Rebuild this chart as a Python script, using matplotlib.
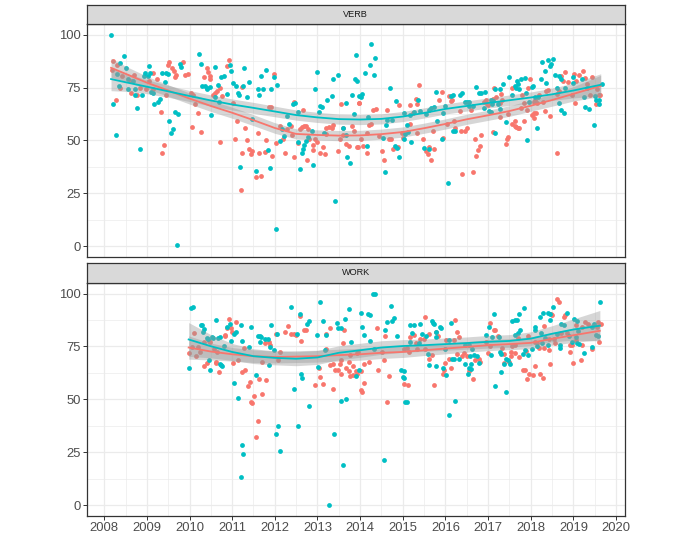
import numpy as np
import matplotlib
matplotlib.use("Agg")
import matplotlib.pyplot as plt
from matplotlib.ticker import MultipleLocator

plt.rcParams['font.family'] = ['Liberation Sans', 'DejaVu Sans']

RED = "#F8766D"
TEAL = "#00BFC4"

# ---- VERB panel points (year, value) ----
verb_red = [
    (2008.21, 87.4), (2008.19, 83.5), (2008.27, 69.3), (2008.31, 85.8), (2008.41, 80.3),
    (2008.37, 74.8), (2008.63, 78.0), (2008.63, 72.5), (2008.70, 81.1), (2008.77, 71.4),
    (2008.84, 74.8), (2008.99, 74.1), (2009.05, 78.0), (2009.15, 81.9), (2009.15, 74.4),
    (2009.23, 78.8), (2009.32, 63.5), (2009.50, 85.5), (2009.52, 87.1), (2009.58, 84.3),
    (2009.64, 82.7), (2009.69, 81.1), (2009.66, 80.0), (2009.85, 87.1), (2009.89, 81.1),
    (2009.97, 81.4), (2009.44, 71.4), (2009.41, 47.8), (2009.36, 44.2), (2010.03, 72.5),
    (2010.09, 71.4), (2010.14, 67.0), (2010.19, 63.1), (2010.06, 56.3), (2010.27, 53.9),
    (2010.40, 84.3), (2010.44, 82.4), (2010.47, 80.3), (2010.49, 79.2), (2010.34, 80.0),
    (2010.55, 71.7), (2010.60, 72.5), (2010.65, 73.3), (2010.71, 74.8), (2010.71, 49.4),
    (2010.77, 70.9), (2010.92, 87.9), (2010.88, 85.1), (2011.22, 75.2), (2011.02, 67.5),
    (2011.12, 59.1), (2011.30, 55.7), (2011.06, 50.9), (2011.34, 50.3), (2011.23, 44.2),
    (2011.39, 46.2), (2011.43, 43.4), (2011.47, 45.0), (2011.60, 53.5), (2011.98, 81.6),
    (2011.20, 26.6), (2011.55, 32.9), (2011.68, 33.2), (2011.64, 44.0), (2011.77, 44.7),
    (2011.80, 50.0), (2012.02, 48.7), (2011.94, 42.6), (2012.11, 56.8), (2012.19, 50.5),
    (2012.29, 55.2), (2012.37, 56.8), (2012.41, 52.8), (2012.25, 43.9), (2012.46, 42.3),
    (2011.86, 65.9), (2011.91, 65.9), (2012.45, 68.2), (2012.66, 64.6), (2012.55, 48.9),
    (2012.58, 55.5), (2012.63, 56.3), (2012.68, 56.8), (2012.73, 56.8), (2012.77, 55.5),
    (2012.76, 40.7), (2012.80, 50.5), (2012.89, 48.1), (2012.95, 50.5), (2012.99, 49.4),
    (2012.89, 45.6), (2013.07, 44.2), (2013.17, 43.4), (2013.12, 46.9), (2013.19, 53.1),
    (2013.21, 55.7), (2013.27, 56.3), (2013.33, 56.0), (2013.37, 57.2), (2013.48, 45.0),
    (2013.56, 67.0), (2013.60, 55.7), (2013.52, 50.5), (2013.60, 52.8), (2013.66, 48.4),
    (2013.74, 47.3), (2013.81, 56.8), (2013.85, 54.4), (2013.95, 46.9), (2013.97, 67.8),
    (2013.98, 67.6), (2014.38, 65.1), (2014.30, 64.2), (2014.20, 57.5), (2014.26, 57.9),
    (2014.15, 53.6), (2014.01, 50.9), (2013.93, 46.9), (2014.06, 47.2), (2014.15, 44.2),
    (2014.44, 52.0), (2014.52, 45.0), (2014.55, 40.7), (2014.63, 64.6), (2014.67, 50.9),
    (2014.73, 50.5), (2014.77, 45.8), (2014.89, 46.9), (2014.92, 66.9), (2015.16, 66.9),
    (2014.98, 53.6), (2015.00, 51.3), (2015.18, 58.0), (2015.23, 63.0), (2015.30, 69.8),
    (2015.34, 67.0), (2015.39, 76.1), (2015.34, 53.6), (2015.47, 50.5), (2015.55, 45.0),
    (2015.59, 43.4), (2015.62, 46.9), (2015.67, 40.7), (2015.74, 45.8), (2015.70, 54.7),
    (2015.91, 72.8), (2015.84, 68.9), (2015.94, 51.3), (2016.08, 70.9), (2016.12, 68.6),
    (2016.16, 69.3), (2016.04, 58.0), (2016.19, 59.4), (2016.22, 56.0), (2016.33, 63.8),
    (2016.37, 54.7), (2016.39, 34.3), (2016.45, 54.4), (2016.50, 56.0), (2016.59, 64.6),
    (2016.69, 50.5), (2016.72, 42.6), (2016.64, 35.2), (2016.77, 45.3), (2016.80, 47.3),
    (2016.84, 52.4), (2016.90, 68.2), (2016.94, 69.3), (2016.99, 66.7), (2016.98, 67.0),
    (2017.11, 69.8), (2017.13, 74.8), (2017.19, 70.4), (2017.31, 72.0), (2017.33, 69.3),
    (2017.29, 67.8), (2017.27, 61.0), (2017.55, 74.8), (2017.80, 71.7), (2017.78, 65.4),
    (2017.85, 67.8), (2017.91, 64.6), (2017.94, 74.8), (2017.99, 78.8), (2018.07, 68.2),
    (2018.11, 68.9), (2018.15, 67.5), (2018.20, 71.7), (2018.28, 68.2), (2018.07, 63.0),
    (2018.13, 63.2), (2018.07, 60.4), (2018.04, 62.0), (2017.84, 59.1), (2017.47, 62.6),
    (2017.56, 57.9), (2017.63, 56.8), (2017.66, 56.3), (2017.70, 55.7), (2017.72, 55.8),
    (2017.64, 59.0), (2017.11, 54.1), (2017.47, 51.6), (2017.45, 50.5), (2017.42, 48.4),
    (2018.34, 63.8), (2018.44, 61.5), (2018.36, 73.3), (2018.40, 73.6), (2018.62, 72.0),
    (2018.70, 80.3), (2018.76, 78.0), (2018.66, 73.3), (2018.81, 82.2), (2018.88, 77.7),
    (2018.62, 44.2), (2019.01, 81.4), (2019.05, 78.3), (2019.14, 80.8), (2019.22, 83.0),
    (2019.03, 67.5), (2018.97, 71.7), (2019.27, 79.6), (2019.32, 76.7), (2019.40, 71.7),
    (2019.44, 80.0), (2019.55, 74.4), (2019.52, 67.0), (2019.61, 71.7), (2019.63, 71.4),
]

verb_teal = [
    (2008.16, 100.0), (2008.21, 67.3), (2008.27, 52.4), (2008.47, 90.1), (2008.37, 86.6),
    (2008.30, 81.4), (2008.51, 84.3), (2008.34, 75.6), (2008.56, 79.2), (2008.68, 78.3),
    (2008.55, 74.4), (2008.72, 74.1), (2008.73, 71.4), (2008.78, 65.4), (2008.88, 71.7),
    (2008.94, 80.3), (2008.95, 81.9), (2009.02, 80.3), (2009.05, 85.4), (2009.08, 81.9),
    (2009.09, 73.0), (2009.15, 72.5), (2009.17, 67.3), (2009.25, 68.2), (2009.31, 69.8),
    (2008.84, 46.2), (2009.36, 81.9), (2009.42, 77.5), (2009.46, 81.9), (2009.50, 81.4),
    (2009.77, 86.2), (2009.81, 84.6), (2009.66, 63.5), (2009.72, 62.3), (2009.52, 59.1),
    (2009.62, 55.2), (2009.56, 53.6), (2009.70, 0.5), (2010.23, 90.6), (2010.27, 86.3),
    (2010.30, 75.9), (2010.36, 75.9), (2010.42, 74.8), (2010.40, 74.1), (2010.48, 75.2),
    (2010.59, 84.6), (2010.67, 76.4), (2010.59, 70.4), (2010.50, 62.0), (2010.73, 80.0),
    (2010.80, 80.3), (2010.69, 68.2), (2010.94, 85.5), (2010.98, 82.7), (2011.02, 77.0),
    (2011.10, 75.5), (2011.25, 75.6), (2011.14, 72.2), (2011.16, 71.4), (2010.88, 72.0),
    (2011.34, 70.4), (2011.39, 77.5), (2011.27, 84.3), (2011.47, 60.2), (2011.68, 80.3),
    (2011.60, 74.1), (2011.64, 71.7), (2011.72, 74.5), (2011.80, 83.3), (2011.92, 74.4),
    (2011.98, 79.9), (2012.04, 76.1), (2011.19, 37.7), (2011.55, 35.5), (2011.84, 45.3),
    (2011.88, 37.1), (2012.02, 8.3), (2012.17, 55.2), (2012.13, 49.7), (2012.21, 52.0),
    (2012.29, 61.5), (2012.33, 57.9), (2012.48, 67.8), (2012.42, 67.3), (2012.55, 63.4),
    (2012.55, 49.4), (2012.72, 49.7), (2012.69, 47.8), (2012.66, 46.2), (2012.64, 44.2),
    (2012.58, 36.6), (2012.89, 38.5), (2012.78, 51.6), (2012.86, 54.4), (2012.95, 74.1),
    (2012.99, 82.2), (2013.05, 66.2), (2013.11, 65.7), (2013.03, 63.5), (2013.16, 53.6),
    (2013.23, 69.0), (2013.33, 70.9), (2013.36, 79.1), (2013.48, 80.7), (2013.41, 21.4),
    (2013.66, 67.8), (2013.60, 56.0), (2013.66, 52.8), (2013.70, 42.1), (2013.77, 39.5),
    (2013.87, 78.8), (2013.81, 71.7), (2013.85, 62.3), (2013.90, 90.3), (2013.97, 70.9),
    (2013.93, 78.3), (2014.26, 95.6), (2014.34, 89.0), (2014.22, 85.5), (2014.11, 81.9),
    (2014.32, 80.7), (2014.05, 72.0), (2014.01, 70.4), (2014.19, 61.0), (2014.16, 47.3),
    (2014.59, 35.2), (2014.53, 51.3), (2014.61, 57.5), (2014.63, 59.9), (2014.71, 74.8),
    (2014.75, 59.9), (2014.81, 47.3), (2014.87, 46.5), (2014.92, 42.3), (2014.83, 68.6),
    (2015.04, 63.0), (2015.10, 57.5), (2015.02, 50.5), (2015.05, 53.1), (2015.12, 54.0),
    (2015.18, 62.0), (2015.26, 63.5), (2015.36, 68.9), (2015.20, 49.4), (2015.40, 64.0),
    (2015.49, 46.5), (2015.61, 45.8), (2015.55, 62.3), (2015.61, 64.2), (2015.67, 65.4),
    (2015.73, 65.9), (2015.78, 72.8), (2015.94, 63.0), (2015.80, 59.1), (2015.91, 50.9),
    (2016.00, 66.2), (2016.14, 71.2), (2016.17, 71.7), (2016.06, 30.0), (2016.23, 54.7),
    (2016.18, 54.4), (2016.35, 71.7), (2016.39, 72.5), (2016.45, 68.2), (2016.51, 68.0),
    (2016.55, 68.2), (2016.56, 66.2), (2016.64, 66.2), (2016.72, 75.2), (2016.78, 72.5),
    (2016.84, 72.5), (2016.92, 73.0), (2016.90, 65.4), (2017.02, 63.8), (2017.06, 68.9),
    (2017.06, 63.5), (2017.11, 68.6), (2017.08, 67.3), (2017.16, 74.1), (2017.23, 67.0),
    (2017.27, 74.1), (2017.34, 76.7), (2017.29, 65.1), (2017.50, 79.9), (2017.55, 71.7),
    (2017.63, 75.9), (2017.68, 78.3), (2017.66, 74.8), (2017.72, 74.4), (2017.78, 79.2),
    (2017.86, 79.6), (2017.70, 76.5), (2017.88, 72.5), (2018.02, 75.2), (2018.05, 75.5),
    (2017.95, 68.2), (2018.09, 70.4), (2018.17, 70.4), (2018.15, 56.0), (2017.42, 58.6),
    (2017.17, 53.6), (2017.91, 50.0), (2018.25, 78.8), (2018.27, 87.1), (2018.33, 82.9),
    (2018.41, 88.2), (2018.44, 85.1), (2018.48, 86.2), (2018.52, 88.7), (2018.36, 77.2),
    (2018.58, 80.8), (2018.67, 80.3), (2018.72, 79.2), (2018.62, 74.8), (2018.81, 74.8),
    (2018.67, 67.8), (2018.70, 64.6), (2018.79, 63.0), (2018.98, 80.0), (2018.99, 77.0),
    (2019.27, 65.7), (2019.36, 65.1), (2019.24, 70.4), (2019.20, 78.8), (2019.31, 74.8),
    (2019.50, 70.9), (2019.53, 69.3), (2019.59, 68.9), (2019.60, 67.3), (2019.48, 57.2),
    (2019.66, 76.7),
]

# ---- WORK panel points (year, value) ----
work_red = [
    (2009.98, 71.7), (2010.10, 81.4), (2010.06, 74.8), (2010.16, 70.4), (2010.24, 72.4),
    (2010.20, 74.8), (2010.35, 77.2), (2010.45, 77.6), (2010.49, 77.2), (2010.65, 72.4),
    (2010.57, 74.0), (2010.35, 65.7), (2010.41, 67.0), (2010.61, 67.7), (2010.63, 67.2),
    (2010.69, 62.7), (2010.84, 79.8), (2010.88, 83.5), (2010.92, 88.2), (2010.98, 83.5),
    (2011.00, 81.9), (2011.08, 86.6), (2010.83, 80.3), (2011.02, 67.2), (2011.13, 68.5),
    (2011.27, 74.5), (2011.31, 64.1), (2011.37, 56.2), (2011.41, 58.0), (2011.43, 48.8),
    (2011.47, 48.3), (2011.51, 51.5), (2011.23, 63.0), (2011.60, 39.8), (2011.55, 32.0),
    (2011.64, 59.5), (2011.80, 59.1), (2011.76, 76.7), (2011.86, 77.0), (2011.88, 75.6),
    (2012.02, 81.1), (2012.12, 72.4), (2012.07, 68.5), (2011.70, 52.3), (2011.70, 67.7),
    (2012.30, 84.5), (2012.25, 82.0), (2012.37, 81.1), (2012.46, 81.1), (2012.50, 80.3),
    (2012.59, 89.3), (2012.62, 77.6), (2012.68, 83.0), (2012.72, 83.0), (2013.19, 81.1),
    (2013.19, 74.0), (2013.29, 83.5), (2013.63, 83.0), (2013.60, 76.4), (2013.55, 68.8),
    (2013.73, 67.7), (2013.76, 71.0), (2013.92, 72.0), (2013.96, 72.5), (2014.40, 83.5),
    (2014.52, 72.4), (2014.59, 79.8), (2014.56, 68.5), (2014.41, 63.8), (2014.67, 61.0),
    (2014.21, 67.7), (2014.10, 66.6), (2014.02, 63.5), (2013.93, 62.0), (2013.91, 63.2),
    (2013.84, 65.6), (2013.83, 61.4), (2013.73, 63.4), (2013.77, 61.0), (2013.66, 64.6),
    (2013.54, 61.9), (2013.48, 63.8), (2013.52, 66.6), (2013.30, 66.1), (2013.36, 66.6),
    (2013.40, 64.1), (2013.03, 64.6), (2013.05, 60.6), (2012.95, 56.7), (2013.13, 57.2),
    (2013.37, 55.1), (2014.10, 57.8), (2014.01, 54.6), (2014.05, 53.5), (2014.63, 48.8),
    (2015.51, 88.7), (2016.23, 87.4), (2016.26, 81.9), (2016.31, 79.5), (2015.83, 80.0),
    (2015.77, 81.9), (2015.61, 80.8), (2015.49, 78.7), (2015.40, 78.7), (2015.30, 76.7),
    (2015.18, 79.5), (2015.26, 80.5), (2015.10, 74.5), (2015.02, 74.0), (2015.14, 72.4),
    (2015.34, 74.0), (2015.53, 74.0), (2015.61, 69.3), (2015.69, 71.0), (2016.02, 78.0),
    (2016.19, 78.2), (2016.08, 69.3), (2016.27, 71.3), (2016.39, 70.4), (2016.43, 72.0),
    (2016.51, 70.4), (2016.70, 68.8), (2016.78, 69.3), (2016.82, 67.7), (2017.05, 86.1),
    (2017.13, 83.0), (2017.17, 82.7), (2017.23, 79.8), (2016.96, 77.0), (2017.04, 75.1),
    (2017.00, 71.8), (2017.33, 74.2), (2017.37, 71.3), (2017.48, 67.7), (2017.53, 70.4),
    (2017.54, 72.4), (2017.55, 75.0), (2017.38, 67.0), (2015.02, 57.2), (2015.12, 56.7),
    (2015.74, 56.7), (2015.96, 64.1), (2016.00, 67.2), (2016.13, 65.0), (2015.95, 61.9),
    (2016.65, 59.8), (2016.55, 63.5), (2017.64, 71.7), (2017.62, 75.5), (2017.70, 78.9),
    (2017.73, 69.9), (2017.90, 72.8), (2017.93, 80.0), (2018.11, 77.2), (2018.15, 76.4),
    (2018.19, 74.5), (2018.30, 74.5), (2018.42, 78.5), (2018.54, 78.7), (2018.58, 76.4),
    (2018.48, 90.2), (2018.50, 89.7), (2018.32, 84.6), (2018.62, 97.2), (2018.66, 96.1),
    (2018.77, 89.0), (2018.81, 89.8), (2018.70, 81.4), (2018.86, 81.4), (2018.91, 75.6),
    (2019.05, 78.0), (2019.05, 85.0), (2019.20, 84.3), (2019.28, 86.6), (2019.35, 85.8),
    (2019.56, 84.3), (2019.58, 86.6), (2019.64, 85.5), (2019.60, 77.2), (2019.44, 73.6),
    (2019.20, 75.7), (2018.93, 72.4), (2018.97, 75.6), (2018.42, 73.5), (2018.45, 66.9),
    (2018.11, 65.7), (2017.82, 64.1), (2017.87, 64.1), (2017.95, 62.2), (2018.05, 61.4),
    (2018.21, 62.2), (2017.91, 59.4), (2018.28, 60.3), (2018.99, 67.2), (2019.18, 68.5),
]

work_teal = [
    (2010.04, 93.4), (2010.09, 93.7), (2009.98, 64.6), (2010.26, 85.0), (2010.30, 85.0),
    (2010.34, 83.2), (2010.32, 81.9), (2010.41, 79.2), (2010.43, 78.5), (2010.52, 79.5),
    (2010.55, 78.8), (2010.63, 87.4), (2010.66, 79.2), (2010.71, 79.5), (2010.45, 68.5),
    (2010.49, 64.1), (2010.71, 66.6), (2010.74, 66.1), (2010.77, 65.7), (2010.80, 75.1),
    (2010.87, 84.0), (2010.95, 85.5), (2011.04, 80.8), (2011.08, 81.9), (2010.98, 77.6),
    (2011.05, 57.8), (2011.13, 50.4), (2011.20, 85.0), (2011.22, 77.6), (2011.39, 74.8),
    (2011.43, 84.0), (2011.23, 28.5), (2011.26, 24.1), (2011.20, 13.4), (2011.55, 61.4),
    (2011.60, 79.8), (2011.66, 79.8), (2011.68, 79.5), (2011.78, 78.3), (2011.65, 77.2),
    (2011.84, 78.7), (2011.91, 85.0), (2011.88, 74.8), (2011.98, 73.5), (2012.05, 80.8),
    (2011.86, 66.1), (2012.07, 37.3), (2012.12, 25.7), (2012.02, 33.5), (2012.37, 93.7),
    (2012.59, 90.2), (2012.51, 80.8), (2012.76, 85.8), (2012.79, 87.0), (2012.99, 80.3),
    (2013.07, 95.9), (2013.13, 87.1), (2013.21, 80.3), (2013.17, 73.5), (2013.45, 86.1),
    (2013.48, 83.9), (2013.54, 83.5), (2013.64, 88.2), (2013.73, 92.6), (2014.01, 90.6),
    (2014.18, 90.2), (2014.24, 89.8), (2014.05, 84.3), (2014.10, 80.3), (2013.79, 77.2),
    (2014.22, 77.6), (2014.32, 74.0), (2014.59, 83.0), (2014.62, 86.6), (2014.73, 94.0),
    (2014.79, 88.5), (2014.75, 87.0), (2014.87, 79.8), (2014.34, 100.0), (2014.30, 100.0),
    (2014.96, 63.8), (2015.01, 60.6), (2012.61, 61.9), (2012.63, 60.3), (2012.46, 55.1),
    (2012.80, 46.8), (2012.54, 37.3), (2013.38, 33.5), (2013.55, 49.3), (2013.68, 50.2),
    (2013.60, 19.2), (2014.55, 21.3), (2013.27, 0.3), (2013.91, 61.0), (2015.06, 48.8),
    (2013.02, 65.1), (2013.97, 64.0), (2015.16, 85.0), (2015.27, 85.0), (2015.40, 85.5),
    (2015.69, 87.1), (2015.71, 86.3), (2015.73, 85.5), (2015.79, 81.9), (2015.87, 84.3),
    (2015.90, 83.5), (2016.12, 86.1), (2016.08, 77.9), (2015.79, 79.5), (2015.55, 79.8),
    (2015.45, 81.1), (2015.18, 77.2), (2015.22, 81.5), (2015.38, 76.7), (2015.58, 71.3),
    (2016.00, 74.0), (2016.16, 69.3), (2016.20, 69.3), (2016.31, 69.3), (2016.47, 75.6),
    (2016.55, 75.6), (2016.63, 74.0), (2016.57, 70.4), (2016.66, 70.9), (2016.73, 70.4),
    (2016.78, 67.2), (2016.94, 80.3), (2017.02, 84.3), (2017.13, 90.2), (2017.09, 79.5),
    (2017.25, 79.5), (2017.06, 70.9), (2017.29, 72.4), (2017.30, 71.5), (2017.43, 69.3),
    (2017.46, 68.5), (2017.38, 66.6), (2017.51, 66.6), (2017.56, 87.1), (2017.64, 87.7),
    (2015.02, 63.4), (2015.04, 60.1), (2015.09, 48.8), (2015.61, 66.1), (2015.79, 65.7),
    (2015.95, 64.6), (2016.02, 61.4), (2016.47, 66.6), (2016.55, 64.6), (2016.53, 61.9),
    (2016.59, 66.6), (2016.61, 64.4), (2016.23, 49.3), (2016.08, 42.8), (2017.17, 56.2),
    (2017.43, 53.5), (2017.30, 62.8), (2017.84, 93.4), (2017.72, 90.2), (2017.68, 87.7),
    (2017.75, 83.0), (2017.70, 81.5), (2017.62, 80.3), (2017.86, 73.5), (2017.82, 71.3),
    (2017.94, 70.9), (2018.03, 74.0), (2018.09, 82.7), (2018.11, 84.0), (2018.21, 88.7),
    (2018.28, 90.9), (2018.40, 90.9), (2018.46, 90.3), (2018.52, 93.7), (2018.45, 87.7),
    (2018.71, 85.8), (2018.77, 85.0), (2018.84, 90.9), (2018.23, 81.4), (2018.34, 79.2),
    (2018.15, 75.1), (2018.27, 76.7), (2018.40, 75.6), (2018.62, 80.8), (2018.89, 79.8),
    (2018.96, 76.9), (2019.01, 88.2), (2019.09, 86.8), (2019.05, 79.5), (2019.11, 82.5),
    (2019.44, 84.3), (2019.48, 85.5), (2019.54, 80.3), (2019.57, 79.8), (2019.62, 96.1),
    (2019.44, 74.8), (2019.26, 72.0), (2019.08, 76.7), (2019.12, 76.0), (2018.68, 75.6),
    (2018.68, 74.5),
]

# ---- smoothed trend + confidence half-widths ----
verb_fit_x = [2008.16, 2008.5, 2009.0, 2009.5, 2010.0, 2010.5, 2011.0, 2011.5, 2012.0, 2012.5,
              2013.0, 2013.5, 2014.0, 2014.5, 2015.0, 2015.5, 2016.0, 2016.5, 2017.0, 2017.5,
              2018.0, 2018.5, 2019.0, 2019.64]
verb_fit_teal = [79.0, 77.5, 75.4, 73.2, 71.0, 68.9, 67.0, 65.4, 63.7, 62.0,
                 60.9, 60.1, 59.9, 60.2, 61.3, 63.0, 64.9, 66.3, 67.7, 69.0,
                 70.3, 71.8, 73.6, 76.3]
verb_se_teal = [5.5, 4.3, 3.3, 2.8, 2.6, 2.6, 2.6, 2.6, 2.5, 2.4,
                2.4, 2.4, 2.4, 2.4, 2.4, 2.4, 2.4, 2.4, 2.4, 2.5,
                2.6, 2.9, 3.5, 5.2]
verb_fit_red = [84.3, 81.5, 77.3, 73.6, 69.8, 66.3, 63.1, 59.6, 55.9, 53.1,
                52.6, 52.3, 52.4, 53.0, 54.0, 55.8, 57.8, 60.0, 61.9, 63.9,
                66.4, 69.1, 72.0, 75.8]
verb_se_red = [4.5, 3.6, 3.0, 2.7, 2.6, 2.6, 2.6, 2.6, 2.5, 2.4,
               2.4, 2.4, 2.4, 2.4, 2.4, 2.4, 2.4, 2.4, 2.4, 2.5,
               2.6, 2.9, 3.4, 5.0]

work_fit_x = [2009.98, 2010.5, 2011.0, 2011.5, 2012.0, 2012.5, 2013.0, 2013.5, 2014.0, 2014.5,
              2015.0, 2015.5, 2016.0, 2016.5, 2017.0, 2017.5, 2018.0, 2018.5, 2019.0, 2019.62]
work_fit_teal = [78.3, 75.1, 72.4, 70.4, 69.6, 69.2, 69.8, 72.0, 73.2, 74.5,
                 75.2, 75.6, 76.1, 76.6, 77.2, 77.6, 78.7, 81.0, 83.0, 84.8]
work_se_teal = [8.0, 5.5, 4.0, 3.5, 3.3, 3.3, 3.3, 3.3, 3.3, 3.2,
                3.0, 2.9, 2.9, 2.9, 3.0, 3.0, 3.2, 3.8, 5.0, 7.2]
work_fit_red = [74.5, 72.6, 71.3, 70.4, 70.0, 70.2, 70.4, 70.9, 71.3, 72.0,
                72.4, 73.2, 74.0, 74.8, 75.6, 76.1, 76.7, 78.6, 80.3, 82.4]
work_se_red = [5.5, 4.0, 3.2, 3.0, 2.8, 2.8, 2.8, 2.8, 2.8, 2.7,
               2.6, 2.5, 2.5, 2.5, 2.6, 2.6, 2.8, 3.0, 3.4, 4.3]

years = list(range(2008, 2021))
yticks = [0, 25, 50, 75, 100]
panels = ["VERB", "WORK"]


def draw_panel(ax, red_pts, teal_pts, fx, fred, sred, fteal, steal):
    r = np.array(red_pts).T
    t = np.array(teal_pts).T
    ax.scatter(r[0], r[1], s=12, color=RED, linewidths=0, zorder=2)
    ax.scatter(t[0], t[1], s=12, color=TEAL, linewidths=0, zorder=2)

    fx = np.array(fx)
    for fit, se, col in [(fred, sred, RED), (fteal, steal, TEAL)]:
        fit = np.array(fit)
        se = np.array(se)
        ax.fill_between(fx, fit - se, fit + se, color="#999999", alpha=0.4,
                        linewidth=0, zorder=3)
        ax.plot(fx, fit, color=col, linewidth=1.3, zorder=4)

    ax.set_xlim(2007.59, 2020.21)
    ax.set_ylim(-5, 105)
    ax.set_xticks(years)
    ax.set_yticks(yticks)
    ax.xaxis.set_minor_locator(MultipleLocator(0.5))
    ax.yaxis.set_minor_locator(MultipleLocator(12.5))
    ax.grid(which="major", color="#EBEBEB", linewidth=0.9)
    ax.grid(which="minor", color="#EBEBEB", linewidth=0.5)
    ax.set_axisbelow(True)
    ax.tick_params(which="minor", length=0)
    ax.tick_params(which="major", length=3, width=0.7, color="#333333",
                   labelcolor="#4D4D4D", labelsize=9.4, pad=1.5)
    for sp in ax.spines.values():
        sp.set_color("#333333")
        sp.set_linewidth(0.9)


def draw_strip(fig, rect, label):
    s = fig.add_axes(rect)
    s.set_facecolor("#D9D9D9")
    s.set_xticks([])
    s.set_yticks([])
    for sp in s.spines.values():
        sp.set_color("#333333")
        sp.set_linewidth(0.9)
    s.text(0.5, 0.5, label, ha="center", va="center", fontsize=6.6,
           color="#1A1A1A", transform=s.transAxes)


fig = plt.figure(figsize=(6.86, 5.39), dpi=100)

left, width = 0.1264, 0.7847
ax1 = fig.add_axes([left, 0.5232, width, 0.4323])
ax2 = fig.add_axes([left, 0.0432, width, 0.4318])
draw_strip(fig, [left, 0.9555, width, 0.0358], panels[0])
draw_strip(fig, [left, 0.4750, width, 0.0371], panels[1])

draw_panel(ax1, verb_red, verb_teal, verb_fit_x, verb_fit_red, verb_se_red,
           verb_fit_teal, verb_se_teal)
draw_panel(ax2, work_red, work_teal, work_fit_x, work_fit_red, work_se_red,
           work_fit_teal, work_se_teal)

ax1.tick_params(axis="x", which="both", length=0, labelbottom=False)

fig.savefig("out.png", dpi=100)
